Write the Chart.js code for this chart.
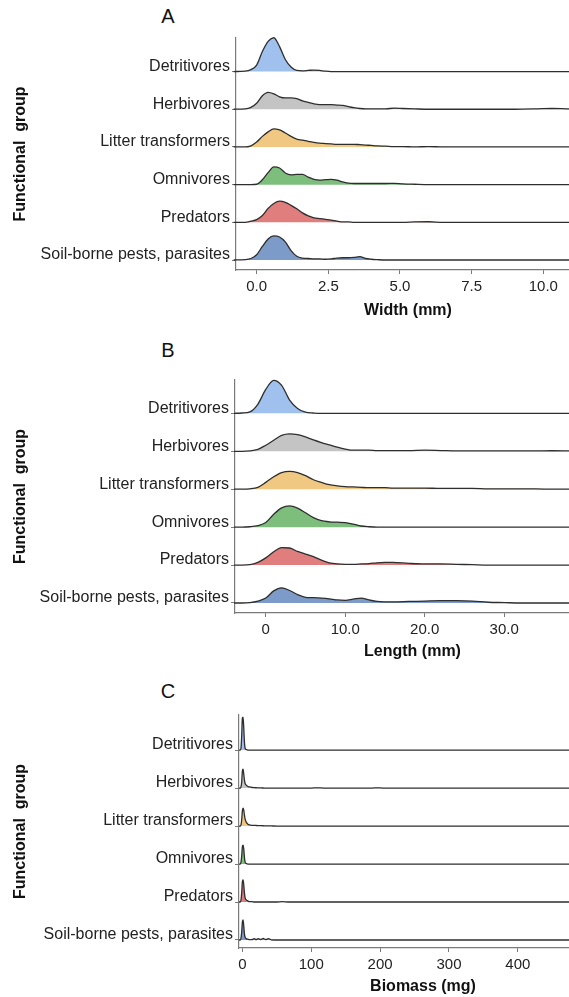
<!DOCTYPE html>
<html>
<head>
<meta charset="utf-8">
<script src="https://cdn.jsdelivr.net/npm/chart.js@4.4.1/dist/chart.umd.min.js"></script>
<style>
  body { margin: 0; background: #fff; overflow: hidden; }
  .page { position: relative; width: 569px; height: 997px; overflow: hidden; }
  .panel { position: absolute; left: 0; width: 569px; overflow: hidden; }
  .tag { position: absolute; left: 158px; width: 20px; text-align: center;
         font: 20px/20px "Liberation Sans", Arial, sans-serif; color: #111; }
</style>
</head>
<body>
<div class="page">
  <div class="tag" style="top:6px">A</div>
  <div class="tag" style="top:340px">B</div>
  <div class="tag" style="top:681px">C</div>
  <div class="panel" style="top:0;height:330px"><canvas id="widthChart" width="580" height="330"></canvas></div>
  <div class="panel" style="top:330px;height:335px"><canvas id="lengthChart" width="590" height="335"></canvas></div>
  <div class="panel" style="top:665px;height:332px"><canvas id="massChart" width="607" height="332"></canvas></div>
</div>
<script>
// groups from top row to bottom row
const groups = ['Detritivores', 'Herbivores', 'Litter transformers', 'Omnivores', 'Predators', 'Soil-borne pests, parasites']
const fills = ['#a0c0ee', '#c4c4c4', '#f0c882', '#7dbe7d', '#e07d7d', '#7d9bc8']

// A: width (mm), ridge heights in row units
const widthGrid = [-0.8, -0.4, -0.2, 0, 0.2, 0.4, 0.6, 0.8, 1.0, 1.2, 1.4, 1.6, 1.8, 2.0, 2.2, 2.4, 2.6, 2.8, 3.0, 3.2, 3.4, 3.6, 3.8, 4.0, 4.2, 4.5, 4.8, 5.1, 5.5, 6.0, 6.5, 7.0, 8.0, 9.0, 9.8, 10.3, 10.8, 11.3]
const widthDetritivores = [0, 0.01, 0.05, 0.17, 0.53, 0.80, 0.90, 0.66, 0.32, 0.12, 0.03, 0.02, 0.03, 0.04, 0.03, 0.01, 0, 0, 0, 0, 0, 0, 0, 0, 0, 0, 0, 0, 0, 0, 0, 0, 0, 0, 0, 0, 0, 0]
const widthHerbivores = [0, 0.01, 0.05, 0.16, 0.36, 0.45, 0.41, 0.33, 0.30, 0.30, 0.28, 0.22, 0.18, 0.14, 0.12, 0.12, 0.12, 0.11, 0.10, 0.07, 0.04, 0.02, 0.01, 0.01, 0.01, 0.01, 0.03, 0.02, 0.01, 0, 0, 0, 0, 0, 0.01, 0.02, 0.01, 0]
const widthLitter = [0, 0, 0.03, 0.13, 0.28, 0.40, 0.48, 0.45, 0.37, 0.28, 0.21, 0.18, 0.15, 0.12, 0.10, 0.09, 0.08, 0.07, 0.07, 0.07, 0.07, 0.06, 0.05, 0.04, 0.03, 0.02, 0.01, 0.01, 0, 0.01, 0, 0, 0, 0, 0, 0, 0, 0]
const widthOmnivores = [0, 0, 0, 0.01, 0.13, 0.32, 0.47, 0.44, 0.31, 0.26, 0.27, 0.27, 0.20, 0.14, 0.12, 0.13, 0.14, 0.12, 0.07, 0.04, 0.03, 0.03, 0.03, 0.03, 0.03, 0.03, 0.035, 0.02, 0.01, 0, 0, 0, 0, 0, 0, 0, 0, 0]
const widthPredators = [0, 0, 0.03, 0.07, 0.18, 0.37, 0.50, 0.56, 0.53, 0.45, 0.36, 0.25, 0.17, 0.12, 0.10, 0.08, 0.06, 0.03, 0.01, 0.01, 0, 0, 0, 0, 0, 0, 0, 0, 0.01, 0.015, 0, 0, 0, 0, 0, 0, 0, 0]
const widthSoil = [0, 0.01, 0.04, 0.14, 0.36, 0.56, 0.64, 0.61, 0.48, 0.25, 0.10, 0.05, 0.04, 0.03, 0.03, 0.02, 0.03, 0.05, 0.06, 0.06, 0.07, 0.09, 0.04, 0.02, 0.01, 0, 0, 0, 0, 0, 0, 0, 0, 0, 0, 0, 0, 0]
const widthTicks = [0, 2.5, 5, 7.5, 10]
const widthLabels = ['0.0', '2.5', '5.0', '7.5', '10.0']

// B: length (mm)
const lengthGrid = [-4, -3, -2, -1, 0, 1, 2, 3, 4, 5, 6, 7, 8, 9, 10, 11, 12, 13, 14, 15, 16, 18, 20, 22, 24, 26, 28, 30, 32, 34, 36, 38, 41]
const lengthDetritivores = [0, 0.01, 0.04, 0.24, 0.63, 0.87, 0.74, 0.35, 0.13, 0.03, 0.01, 0, 0, 0, 0, 0, 0, 0, 0, 0, 0, 0, 0, 0, 0, 0, 0, 0, 0, 0, 0, 0, 0]
const lengthHerbivores = [0, 0, 0.01, 0.05, 0.16, 0.29, 0.42, 0.46, 0.44, 0.38, 0.30, 0.23, 0.17, 0.11, 0.06, 0.03, 0.03, 0.03, 0.02, 0.02, 0.02, 0.02, 0.03, 0.02, 0.01, 0.01, 0.01, 0.01, 0.01, 0.01, 0.015, 0.01, 0]
const lengthLitter = [0, 0, 0.01, 0.05, 0.18, 0.33, 0.44, 0.47, 0.44, 0.36, 0.25, 0.18, 0.12, 0.09, 0.07, 0.06, 0.05, 0.04, 0.04, 0.04, 0.03, 0.03, 0.03, 0.02, 0.02, 0.02, 0.01, 0.01, 0.01, 0.01, 0, 0, 0]
const lengthOmnivores = [0, 0, 0.01, 0.04, 0.12, 0.34, 0.51, 0.56, 0.50, 0.38, 0.25, 0.17, 0.14, 0.13, 0.12, 0.08, 0.03, 0.01, 0, 0, 0, 0, 0, 0, 0, 0, 0, 0, 0, 0, 0, 0, 0]
const lengthPredators = [0, 0, 0.01, 0.07, 0.19, 0.35, 0.46, 0.45, 0.36, 0.29, 0.22, 0.13, 0.06, 0.03, 0.02, 0.02, 0.03, 0.04, 0.06, 0.07, 0.07, 0.045, 0.03, 0.03, 0.02, 0.01, 0, 0, 0, 0, 0, 0, 0]
const lengthSoil = [0, 0, 0.01, 0.05, 0.13, 0.32, 0.40, 0.33, 0.22, 0.15, 0.14, 0.13, 0.11, 0.08, 0.07, 0.10, 0.13, 0.08, 0.04, 0.03, 0.03, 0.04, 0.05, 0.06, 0.06, 0.05, 0.02, 0.01, 0, 0, 0, 0, 0]
const lengthTicks = [0, 10, 20, 30]
const lengthLabels = ['0', '10.0', '20.0', '30.0']

// C: biomass (mg)
const massGrid = [-5, -3, -2, -1, 0, 1, 2, 3, 4, 6, 8, 10, 14, 17, 20, 23, 27, 30, 34, 38, 42, 50, 58, 66, 100, 109, 118, 188, 196, 204, 300, 400, 530]
const massDetritivores = [0, 0, 0.05, 0.37, 0.84, 0.87, 0.58, 0.21, 0.05, 0.01, 0, 0, 0, 0, 0, 0, 0, 0, 0, 0, 0, 0, 0, 0, 0, 0, 0, 0, 0, 0, 0, 0, 0]
const massHerbivores = [0, 0, 0.03, 0.16, 0.45, 0.50, 0.37, 0.21, 0.12, 0.07, 0.04, 0.03, 0.015, 0.01, 0.008, 0.005, 0.003, 0.002, 0, 0, 0, 0, 0, 0, 0, 0.006, 0, 0, 0.006, 0, 0, 0, 0]
const massLitter = [0, 0, 0.03, 0.16, 0.40, 0.47, 0.42, 0.29, 0.18, 0.09, 0.05, 0.03, 0.02, 0.02, 0.015, 0.012, 0.01, 0.008, 0.005, 0.003, 0.002, 0, 0, 0, 0, 0, 0, 0, 0, 0, 0, 0, 0]
const massOmnivores = [0, 0, 0.05, 0.21, 0.45, 0.50, 0.40, 0.18, 0.05, 0.01, 0, 0, 0, 0, 0, 0, 0, 0, 0, 0, 0, 0, 0, 0, 0, 0, 0, 0, 0, 0, 0, 0, 0]
const massPredators = [0, 0, 0.05, 0.24, 0.53, 0.58, 0.45, 0.24, 0.11, 0.05, 0.03, 0.01, 0.01, 0, 0, 0, 0, 0, 0, 0, 0, 0, 0.008, 0, 0, 0, 0, 0, 0, 0, 0, 0, 0]
const massSoil = [0, 0, 0.05, 0.21, 0.47, 0.53, 0.37, 0.16, 0.07, 0.03, 0.02, 0.01, 0.01, 0.035, 0.01, 0.035, 0.01, 0.04, 0.01, 0.035, 0.005, 0, 0, 0, 0, 0, 0, 0, 0, 0, 0, 0, 0]
const massTicks = [0, 100, 200, 300, 400]
const massLabels = ['0', '100', '200', '300', '400']

Chart.defaults.font.family = '"Liberation Sans", Arial, sans-serif'
Chart.defaults.color = '#222'

const axisGrey = '#7a7a7a'

function ridgeChart(id, grid, rows, xTicks, xLabels, p) {
  const datasets = rows.map((dens, i) => {
    const base = groups.length - i
    return {
      data: grid.map((x, k) => ({ x: x, y: base + dens[k] })),
      fill: { value: base },
      backgroundColor: fills[i],
      borderColor: '#2e2e2e',
      borderWidth: 1.3,
      pointRadius: 0,
      cubicInterpolationMode: 'monotone',
      clip: false,
      order: base
    }
  })
  return new Chart(document.getElementById(id), {
    type: 'line',
    data: { datasets },
    options: {
      responsive: false,
      animation: false,
      layout: { padding: { top: p.top, left: 0, right: 0, bottom: 0 } },
      plugins: { legend: { display: false }, tooltip: { enabled: false } },
      scales: {
        x: {
          type: 'linear', min: p.xMin, max: p.xMax,
          afterBuildTicks: s => { s.ticks = xTicks.map(v => ({ value: v })) },
          afterFit: s => { s.height = p.xHeight },
          ticks: {
            callback: v => xLabels[xTicks.indexOf(v)],
            font: { size: 15 }, color: '#222', padding: 4, maxRotation: 0, autoSkip: false
          },
          grid: { drawOnChartArea: false, tickLength: 4, color: axisGrey },
          border: { color: axisGrey, width: 1.2 },
          title: {
            display: true, text: p.xTitle, color: '#111',
            font: { size: 16, weight: 'bold' }, padding: { top: 0, bottom: p.titlePad }
          }
        },
        y: {
          type: 'linear', min: p.yMin, max: p.yMax,
          afterBuildTicks: s => { s.ticks = [1, 2, 3, 4, 5, 6].map(v => ({ value: v })) },
          afterFit: s => { s.width = p.yWidth },
          ticks: {
            callback: v => groups[groups.length - v],
            font: { size: 16 }, color: '#222', padding: 2, labelOffset: -5, autoSkip: false
          },
          grid: { drawOnChartArea: false, tickLength: 4, color: axisGrey },
          border: { color: axisGrey, width: 1.2 },
          title: {
            display: true, text: 'Functional  group', color: '#111',
            font: { size: 16, weight: 'bold' }, padding: { top: 11, bottom: 0 }
          }
        }
      }
    }
  })
}

ridgeChart('widthChart', widthGrid,
  [widthDetritivores, widthHerbivores, widthLitter, widthOmnivores, widthPredators, widthSoil],
  widthTicks, widthLabels,
  { top: 38, xHeight: 60, titlePad: 10, yWidth: 236, xMin: -0.72, xMax: 11.28, yMin: 0.735, yMax: 6.89, xTitle: 'Width (mm)' })

ridgeChart('lengthChart', lengthGrid,
  [lengthDetritivores, lengthHerbivores, lengthLitter, lengthOmnivores, lengthPredators, lengthSoil],
  lengthTicks, lengthLabels,
  { top: 50, xHeight: 52, titlePad: 4, yWidth: 235, xMin: -3.87, xMax: 40.8, yMin: 0.736, yMax: 6.88, xTitle: 'Length (mm)' })

ridgeChart('massChart', massGrid,
  [massDetritivores, massHerbivores, massLitter, massOmnivores, massPredators, massSoil],
  massTicks, massLabels,
  { top: 50, xHeight: 49, titlePad: 1, yWidth: 239, xMin: -4.9, xMax: 529.5, yMin: 0.789, yMax: 6.924, xTitle: 'Biomass (mg)' })
</script>
</body>
</html>
